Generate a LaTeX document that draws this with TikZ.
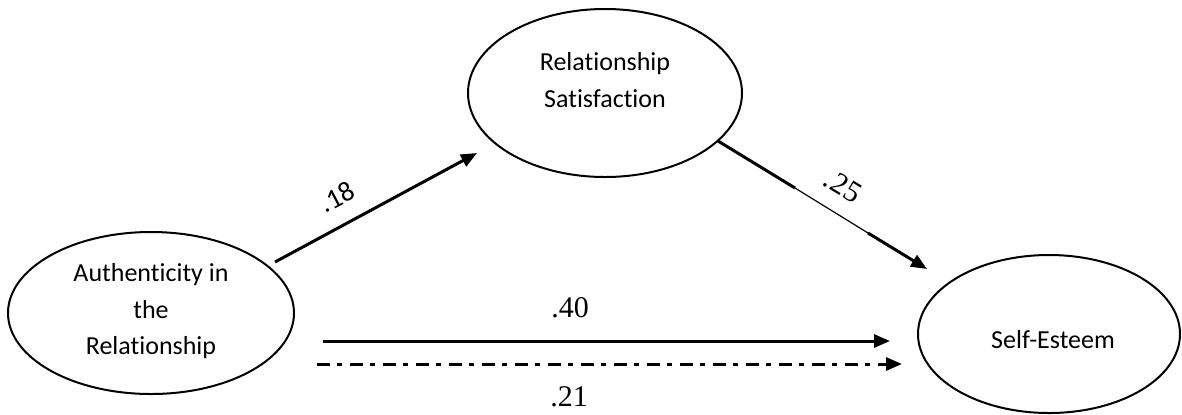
\documentclass[tikz,border=0pt]{standalone}
\usepackage{fontspec}
\setmainfont{Liberation Serif}
\newfontfamily\calfont[Ligatures=NoCommon]{Carlito}
\usetikzlibrary{arrows.meta,shapes.geometric,calc}
\begin{document}
\begin{tikzpicture}[x=0.5pt,y=-0.5pt,
  latent/.style={draw,line width=1pt,ellipse,inner sep=0pt},
  lbl/.style={font=\calfont\fontsize{13}{18.25}\selectfont,align=center,inner sep=0pt},
  pathar/.style={line width=1.5pt,-{Triangle[length=8pt,width=6.5pt]}},
  coef/.style={font=\fontsize{15}{17}\selectfont,inner sep=0pt}]
\useasboundingbox (0,0) rectangle (1182,414);
% latent variables
\node[latent,minimum width=143pt,minimum height=81pt] (aut) at (151,313) {};
\node[lbl] (autt) at (151,311.5) {Authenticity in\\the\\Relationship};
\node[latent,minimum width=137pt,minimum height=84pt] (rs) at (605,93) {};
\node[lbl] (rst) at (605,80) {Relationship\\Satisfaction};
\node[latent,minimum width=131pt,minimum height=79pt] (se) at (1049,334) {};
\node[lbl] (set) at (1053,340) {Self-Esteem};
% connector ends
\coordinate (a1s) at (275,262);
\coordinate (a1e) at (477,153);
\coordinate (a2s) at (718,141);
\coordinate (a2e) at (927,269);
\coordinate (a2m1) at (795,188);
\coordinate (a2m2) at (868,233);
\coordinate (h1s) at (323,341);
\coordinate (h1e) at (890,341);
\coordinate (h2s) at (317,364);
\coordinate (h2e) at (902,364);
% paths
\draw[pathar] (a1s) -- (a1e);
\draw[line width=1.5pt] (a2s) -- (a2m1);
\draw[line width=0.6pt] (a2m1) -- (a2m2);
\draw[pathar] (a2m2) -- (a2e);
\draw[pathar] (h1s) -- (h1e);
\draw[line width=1.5pt,dash pattern=on 6.5pt off 3.5pt on 2.5pt off 4pt,-{Triangle[length=8pt,width=6.5pt]}] (h2s) -- (h2e);
% coefficients
\node[font=\calfont\fontsize{14}{16}\selectfont,inner sep=0pt,rotate=28] (c18) at (337,197) {.18};
\node[coef,rotate=-31.5] (c25) at (843,186) {.25};
\node[coef] (c40) at (570,308) {.40};
\node[coef] (c21) at (569,397) {.21};
\end{tikzpicture}
\end{document}
